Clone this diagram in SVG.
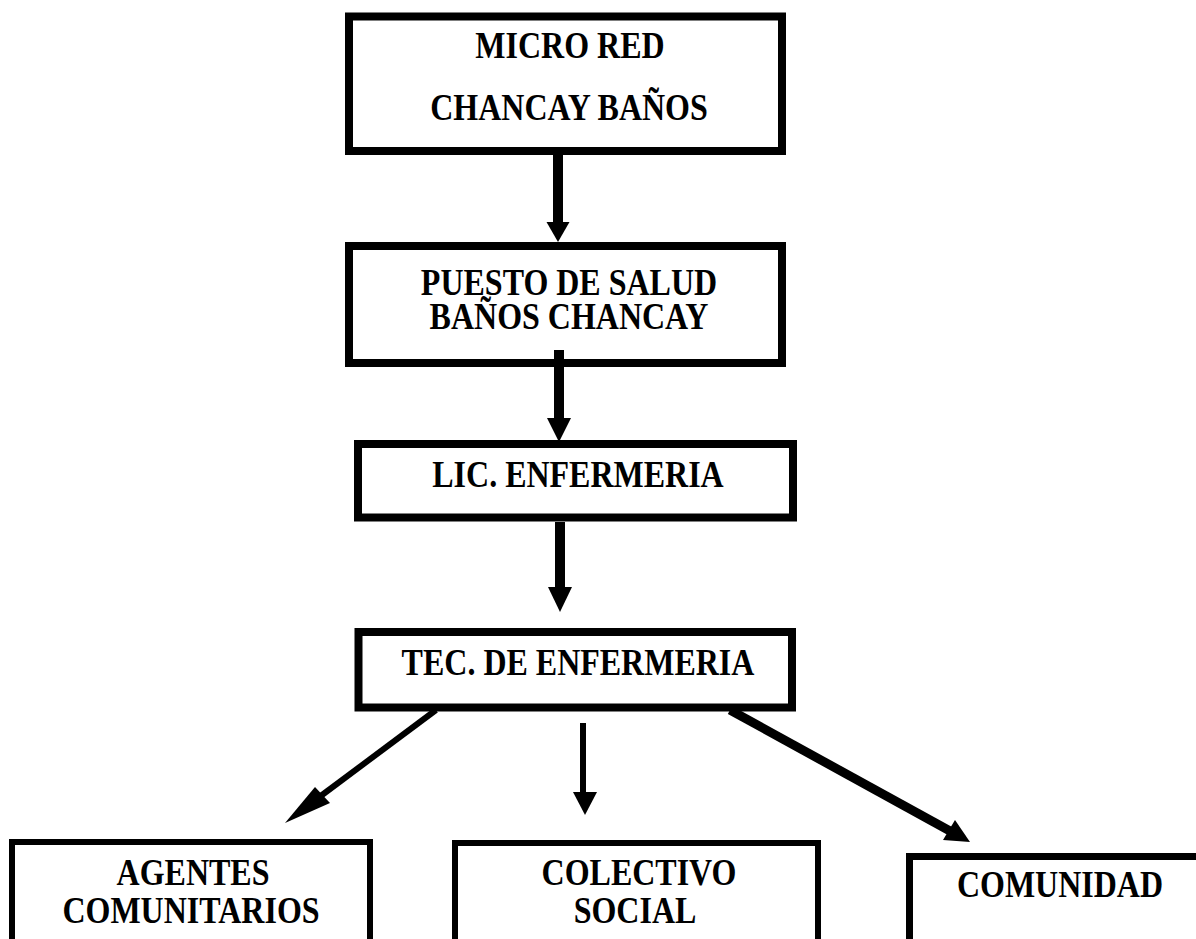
<svg xmlns="http://www.w3.org/2000/svg" width="1196" height="939" viewBox="0 0 1196 939">
<style>
.box{fill:#fff;stroke:#000;stroke-width:8}
.box2{fill:#fff;stroke:#000;stroke-width:6}
.t{font-family:"Liberation Serif","Times New Roman",serif;font-weight:bold;font-size:32px;fill:#000;text-anchor:middle}
.ah{fill:#000;stroke:none}
</style>
<rect width="1196" height="939" fill="#fff"/>
<g id="n1">
<rect class="box" x="349" y="16.5" width="433" height="134.5"/>
<text class="t" transform="matrix(1 0 0 1.17 570 58)">MICRO RED</text>
<text class="t" transform="matrix(1 0 0 1.17 569 120)">CHANCAY BAÑOS</text>
</g>
<g id="n2">
<rect class="box" x="349" y="246" width="433" height="117"/>
<text class="t" transform="matrix(1 0 0 1.17 569 295)">PUESTO DE SALUD</text>
<text class="t" transform="matrix(1 0 0 1.17 569 329)">BAÑOS CHANCAY</text>
</g>
<g id="n3">
<rect class="box" x="358" y="444" width="435" height="73.5"/>
<text class="t" transform="matrix(1 0 0 1.17 578 487)">LIC. ENFERMERIA</text>
</g>
<g id="n4">
<rect class="box" x="358.5" y="632" width="433.5" height="75.5"/>
<text class="t" transform="matrix(1 0 0 1.17 578 675)">TEC. DE ENFERMERIA</text>
</g>
<g id="n5">
<rect class="box2" x="12" y="842" width="358" height="140"/>
<text class="t" transform="matrix(1 0 0 1.17 193 885)">AGENTES</text>
<text class="t" transform="matrix(1 0 0 1.17 191 923)">COMUNITARIOS</text>
</g>
<g id="n6">
<rect class="box2" x="455" y="843" width="363" height="140"/>
<text class="t" transform="matrix(1 0 0 1.17 639 885)">COLECTIVO</text>
<text class="t" transform="matrix(1 0 0 1.17 635 923)">SOCIAL</text>
</g>
<g id="n7">
<path d="M909.5 960 V856.5 H1200" fill="none" stroke="#000" stroke-width="7"/>
<text class="t" transform="matrix(1 0 0 1.17 1060 897)">COMUNIDAD</text>
</g>
<g id="connectors">
<rect class="ah" x="553" y="155" width="10" height="68"/>
<polygon class="ah" points="546.5,222 569.5,222 558,242"/>
<rect class="ah" x="554" y="350" width="10" height="69"/>
<polygon class="ah" points="547,418 571,418 559,442"/>
<rect class="ah" x="555" y="522" width="10" height="66"/>
<polygon class="ah" points="548,587 572,587 560,612"/>
<rect class="ah" x="580" y="723" width="6" height="70"/>
<polygon class="ah" points="573,792 597,792 585,815"/>
<line x1="436" y1="710" x2="318" y2="798" stroke="#000" stroke-width="6"/>
<polygon class="ah" points="285,823 315,787 330,803"/>
<line x1="730" y1="710" x2="950" y2="831" stroke="#000" stroke-width="9"/>
<polygon class="ah" points="970,842 955,820 943,840"/>
</g>
</svg>
